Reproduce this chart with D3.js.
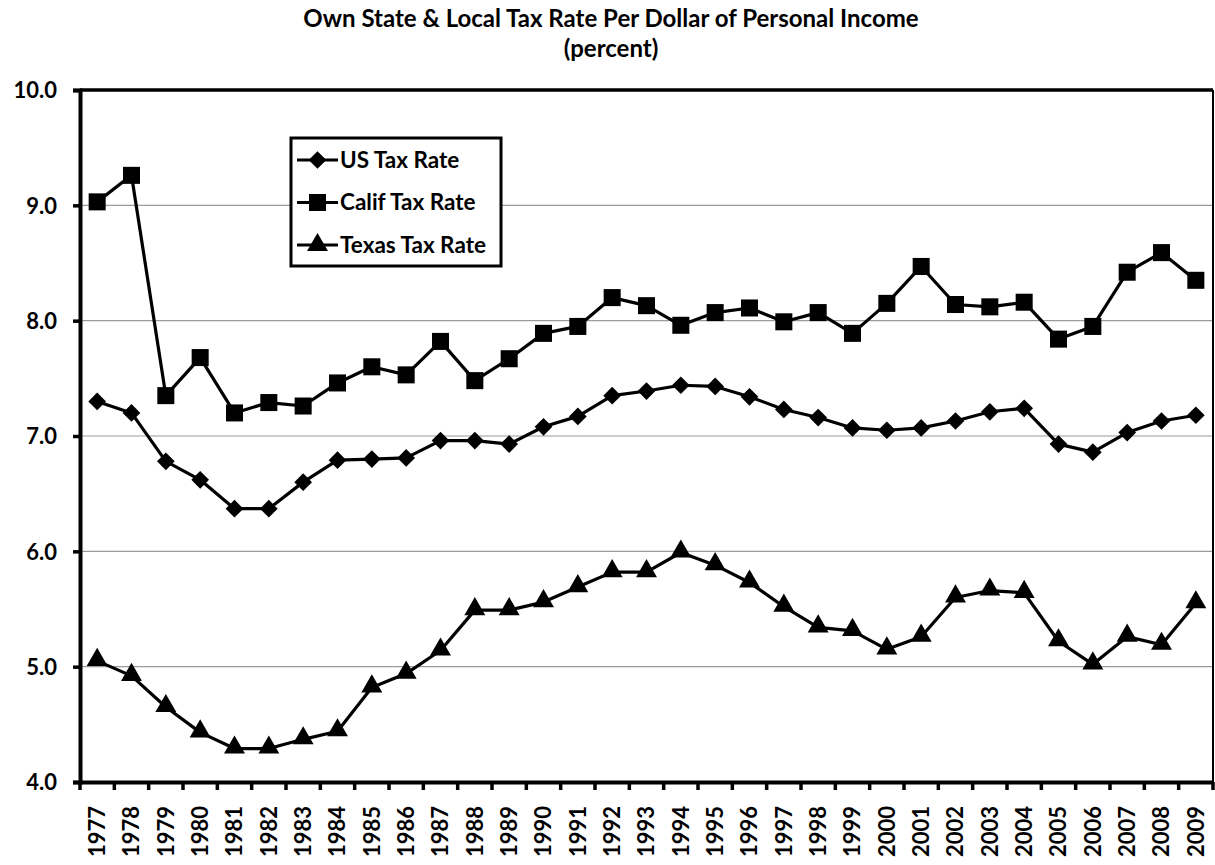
<!DOCTYPE html>
<html>
<head>
<meta charset="utf-8">
<script src="https://cdn.jsdelivr.net/npm/d3@7"></script>
<style>
  html, body { margin: 0; padding: 0; background: #fff; }
  svg { display: block; }
  text { font-family: Lato, "Open Sans", sans-serif; font-weight: bold; fill: #000; }
</style>
</head>
<body>
<svg id="chart" width="1215" height="865"></svg>
<script>
const years = [1977,1978,1979,1980,1981,1982,1983,1984,1985,1986,1987,1988,1989,1990,1991,1992,1993,1994,1995,1996,1997,1998,1999,2000,2001,2002,2003,2004,2005,2006,2007,2008,2009];
const usRate = [7.30,7.20,6.78,6.62,6.37,6.37,6.60,6.79,6.80,6.81,6.96,6.96,6.93,7.08,7.17,7.35,7.39,7.44,7.43,7.34,7.23,7.16,7.07,7.05,7.07,7.13,7.21,7.24,6.93,6.86,7.03,7.13,7.18];
const califRate = [9.03,9.26,7.35,7.68,7.20,7.29,7.26,7.46,7.60,7.53,7.82,7.48,7.67,7.89,7.95,8.20,8.13,7.96,8.07,8.11,7.99,8.07,7.89,8.15,8.47,8.14,8.12,8.16,7.84,7.95,8.42,8.59,8.35];
const texasRate = [5.05,4.92,4.65,4.43,4.29,4.29,4.37,4.44,4.82,4.94,5.14,5.49,5.49,5.56,5.69,5.82,5.82,5.99,5.88,5.73,5.52,5.34,5.31,5.15,5.26,5.60,5.66,5.64,5.22,5.02,5.26,5.19,5.55];
const yTicks = [4,5,6,7,8,9,10];
const seriesNames = ["US Tax Rate","Calif Tax Rate","Texas Tax Rate"];
const titleLines = ["Own State & Local Tax Rate Per Dollar of Personal Income","(percent)"];

const svg = d3.select("#chart");
const L = 80, R = 1213, T = 90, B = 782;

const x = d3.scaleBand().domain(years).range([L, R]).padding(0);
const y = d3.scaleLinear().domain([4, 10]).range([B, T]);
const cx = d => x(d) + x.bandwidth() / 2;

// title
svg.selectAll("text.title").data(titleLines).enter().append("text")
  .attr("class", "title")
  .attr("x", 611).attr("y", (d, i) => 27 + i * 30)
  .attr("text-anchor", "middle")
  .style("font-size", "24px")
  .text(d => d);

// gridlines
svg.append("g").selectAll("line").data(yTicks.filter(v => v > 4 && v < 10)).enter().append("line")
  .attr("x1", L).attr("x2", R)
  .attr("y1", d => y(d)).attr("y2", d => y(d))
  .attr("stroke", "#9a9a9a").attr("stroke-width", 1.2);

// plot border (top & right)
svg.append("line").attr("x1", L).attr("x2", R).attr("y1", T).attr("y2", T)
  .attr("stroke", "#000").attr("stroke-width", 3.5);
svg.append("line").attr("x1", R).attr("x2", R).attr("y1", T).attr("y2", B)
  .attr("stroke", "#000").attr("stroke-width", 2);

// y axis
const yAxis = svg.append("g").attr("transform", `translate(${L},0)`)
  .call(d3.axisLeft(y).tickValues(yTicks).tickFormat(d3.format(".1f")).tickSize(7).tickPadding(16));
yAxis.select(".domain").attr("stroke", "#000").attr("stroke-width", 4);
yAxis.selectAll(".tick line").attr("stroke", "#000").attr("stroke-width", 3.5);
yAxis.selectAll(".tick text").style("font-size", "22px").style("font-family", "Lato, sans-serif").attr("dy", "0.35em");

// x axis
const xAxis = svg.append("g").attr("transform", `translate(0,${B})`)
  .call(d3.axisBottom(x).tickSize(0).tickPadding(0));
xAxis.select(".domain").attr("stroke", "#000").attr("stroke-width", 4);
xAxis.selectAll(".tick text")
  .style("font-size", "22px").style("font-family", "Lato, sans-serif")
  .attr("text-anchor", "end")
  .attr("transform", "translate(0,24) rotate(-90)")
  .attr("x", 0).attr("y", 0).attr("dy", "0.35em");
// ticks at category boundaries
const bounds = years.map(d => x(d)).concat([R]);
svg.append("g").selectAll("line").data(bounds).enter().append("line")
  .attr("x1", d => d).attr("x2", d => d)
  .attr("y1", B).attr("y2", B + 8)
  .attr("stroke", "#000").attr("stroke-width", 3.5);

// series
const line = d3.line().x((d, i) => cx(years[i])).y(d => y(d));
const sym = {
  diamond: d3.symbol().type(d3.symbolDiamond2).size(200),
  square: d3.symbol().type(d3.symbolSquare).size(290),
  triangle: d3.symbol().type(d3.symbolTriangle).size(190)
};
const series = [
  { name: seriesNames[0], values: usRate, shape: "diamond" },
  { name: seriesNames[1], values: califRate, shape: "square" },
  { name: seriesNames[2], values: texasRate, shape: "triangle" }
];
series.forEach(s => {
  svg.append("path").datum(s.values).attr("d", line)
    .attr("fill", "none").attr("stroke", "#000").attr("stroke-width", 3.2)
    .attr("stroke-linejoin", "round");
  svg.append("g").selectAll("path").data(s.values).enter().append("path")
    .attr("d", sym[s.shape])
    .attr("transform", (d, i) => `translate(${cx(years[i])},${y(d) + (s.shape === "triangle" ? -1 : 0)})`)
    .attr("fill", "#000");
});

// legend
const lg = svg.append("g");
lg.append("rect").attr("x", 291).attr("y", 138).attr("width", 210).attr("height", 128)
  .attr("fill", "#fff").attr("stroke", "#000").attr("stroke-width", 3);
series.forEach((s, i) => {
  const yy = 160 + i * 42.5;
  lg.append("line").attr("x1", 297).attr("x2", 338).attr("y1", yy).attr("y2", yy)
    .attr("stroke", "#000").attr("stroke-width", 3.2);
  lg.append("path").attr("d", sym[s.shape]).attr("transform", `translate(317.5,${yy})`).attr("fill", "#000");
  lg.append("text").attr("x", 340).attr("y", yy).attr("dy", "0.35em")
    .style("font-size", "22.5px").text(s.name);
});
</script>
</body>
</html>
